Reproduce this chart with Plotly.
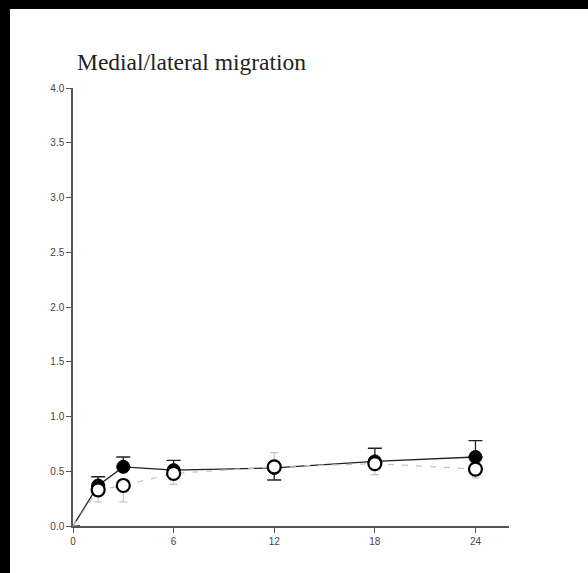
import plotly.graph_objects as go

# Time points (x) and mean migration for the two groups
months = [0, 1.5, 3, 6, 12, 18, 24]
filled_mean = [0.0, 0.37, 0.54, 0.51, 0.53, 0.59, 0.63]
open_mean = [0.0, 0.33, 0.37, 0.48, 0.54, 0.57, 0.52]

# One-sided error bars (up / down) for each group
filled_err_up = [0, 0.08, 0.09, 0.09, 0, 0.12, 0.15]
filled_err_down = [0, 0, 0, 0, 0.11, 0, 0]
open_err_up = [0, 0, 0, 0, 0.13, 0, 0]
open_err_down = [0, 0.11, 0.15, 0.10, 0, 0.10, 0.08]

x_ticks = [0, 6, 12, 18, 24]
y_ticks = [0, 0.5, 1.0, 1.5, 2.0, 2.5, 3.0, 3.5, 4.0]
title_text = "Medial/lateral migration"

x_range = [0, 26]
y_range = [0, 4]

# the baseline point sits on the axes, so its symbol is not shown
marker_opacity = [0 if m == 0 else 1 for m in months]

fig = go.Figure()

fig.add_trace(go.Scatter(
    x=months, y=filled_mean, mode="lines+markers",
    line=dict(color="#222222", width=1.3),
    marker=dict(symbol="circle", size=13, color="black", opacity=marker_opacity,
                line=dict(color="black", width=1)),
    error_y=dict(type="data", symmetric=False, array=filled_err_up,
                 arrayminus=filled_err_down, color="#222222",
                 thickness=1.3, width=7),
    showlegend=False,
))

fig.add_trace(go.Scatter(
    x=months, y=open_mean, mode="lines+markers",
    line=dict(color="#c4c4c4", width=1.3, dash="6px,8px"),
    marker=dict(symbol="circle", size=13, color="white", opacity=marker_opacity,
                line=dict(color="black", width=2.2)),
    error_y=dict(type="data", symmetric=False, array=open_err_up,
                 arrayminus=open_err_down, color="#c4c4c4",
                 thickness=1.2, width=4),
    showlegend=False,
))

# Frame bands along the top and left edges of the page
L, T, W, H = 73, 88, 436, 438
fig.add_shape(type="rect", xref="paper", yref="paper",
              x0=-1, x1=2, y0=(T + H - 9) / H, y1=2,
              fillcolor="black", line=dict(width=0), layer="above")
fig.add_shape(type="rect", xref="paper", yref="paper",
              x0=-1, x1=(10 - L) / W, y0=-1, y1=2,
              fillcolor="black", line=dict(width=0), layer="above")

fig.add_annotation(
    text=title_text, xref="paper", yref="paper",
    x=(75 - L) / W, y=(T + H - 62) / H, xanchor="left", yanchor="middle",
    showarrow=False,
    font=dict(family="Liberation Serif, Times New Roman, serif", size=23.5, color="#222222"),
)

axis_common = dict(
    showgrid=False, zeroline=False, showline=True,
    linecolor="#555555", linewidth=1.5,
    ticks="outside", ticklen=5, tickwidth=1.2, tickcolor="#555555",
    tickfont=dict(family="Liberation Sans, Arial, sans-serif", size=10, color="#444444"),
)

fig.update_xaxes(range=x_range, tickvals=x_ticks, ticktext=[str(v) for v in x_ticks],
                 **axis_common)
# a little trailing space keeps the y labels clear of the tick marks
fig.update_yaxes(range=y_range, tickvals=y_ticks, tickformat=".1f",
                 ticksuffix="\u00a0\u00a0", **axis_common)

fig.update_layout(
    width=588, height=573,
    margin=dict(l=L, r=588 - L - W, t=T, b=573 - T - H, pad=0),
    paper_bgcolor="white", plot_bgcolor="white",
)

fig.write_html("out.html")
